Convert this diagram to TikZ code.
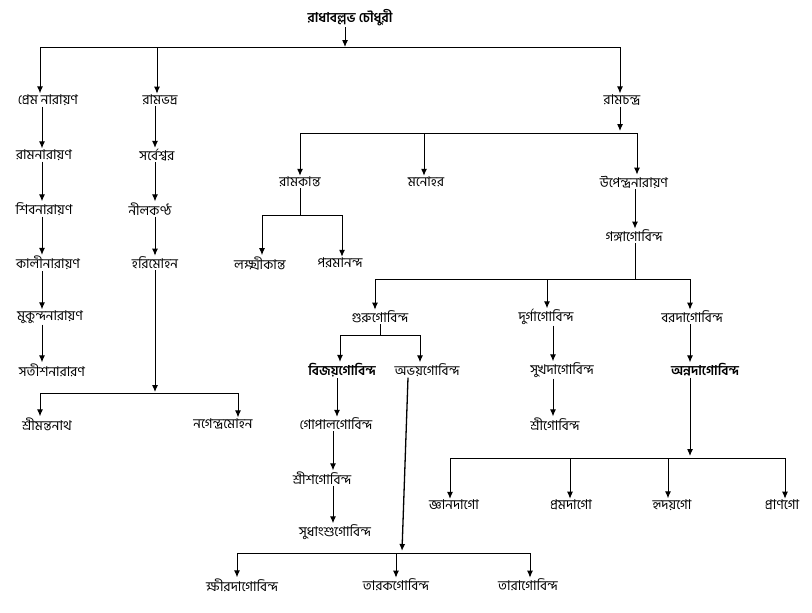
\documentclass[tikz,border=0pt]{standalone}
\usepackage{fontspec}
\newfontfamily\bn[Script=Bengali]{Hind Siliguri}
\usetikzlibrary{arrows.meta}
\begin{document}
\begin{tikzpicture}[x=1pt,y=-1pt,
  every node/.style={font=\bn\fontsize{13.5}{15}\selectfont,inner sep=1pt},
  arr/.style={-{Latex[length=7pt,width=6pt]},line width=1pt},
  ln/.style={line width=1pt}]
\useasboundingbox (0,0) rectangle (812,613);
\node (root) at (350,18) {\bfseries রাধাবল্লভ চৌধুরী};
\node (a1) at (48,100) {প্রেম নারায়ণ};
\node (a2) at (44,155) {রামনারায়ণ};
\node (a3) at (44,209) {শিবনারায়ণ};
\node (a4) at (48,263) {কালীনারায়ণ};
\node (a5) at (50,317) {মুকুন্দনারায়ণ};
\node (a6) at (52,370) {সতীশনারারণ};
\node (b1) at (160,100) {রামভদ্র};
\node (b2) at (157,155) {সর্বেশ্বর};
\node (b3) at (150,209) {নীলকণ্ঠ};
\node (b4) at (155,263) {হরিমোহন};
\node (b5) at (47,424) {শ্রীমন্তনাথ};
\node (b6) at (223,424) {নগেন্দ্রমোহন};
\node (c1) at (622,100) {রামচন্দ্র};
\node (c2) at (300,182) {রামকান্ত};
\node (c3) at (426,182) {মনোহর};
\node (c4) at (634,182) {উপেন্দ্রনারায়ণ};
\node (d1) at (260,263) {লক্ষ্মীকান্ত};
\node (d2) at (340,263) {পরমানন্দ};
\node (e1) at (634,236) {গঙ্গাগোবিন্দ};
\node (f1) at (380,317) {গুরুগোবিন্দ};
\node (f2) at (546,317) {দুর্গাগোবিন্দ};
\node (f3) at (692,317) {বরদাগোবিন্দ};
\node (g1) at (342,370) {\bfseries বিজয়গোবিন্দ};
\node (g2) at (427,370) {অভয়গোবিন্দ};
\node (h1) at (336,424) {গোপালগোবিন্দ};
\node (h2) at (322,478) {শ্রীশগোবিন্দ};
\node (h3) at (335,532) {সুধাংশুগোবিন্দ};
\node (i1) at (242,585) {ক্ষীরদাগোবিন্দ};
\node (i2) at (396,585) {তারকগোবিন্দ};
\node (i3) at (528,585) {তারাগোবিন্দ};
\node (j1) at (562,370) {সুখদাগোবিন্দ};
\node (j2) at (555,424) {শ্রীগোবিন্দ};
\node (k1) at (705,370) {\bfseries অন্নদাগোবিন্দ};
\node (l1) at (454,505) {জ্ঞানদাগো};
\node (l2) at (571,505) {প্রমদাগো};
\node (l3) at (672,505) {হৃদয়গো};
\node (l4) at (782,505) {প্রাণগো};
\draw[arr] (root.south -| 345,0) -- (345,47);
\draw[ln] (40,47) -- (620,47);
\draw[arr] (40,47) -- (a1.north -| 40,0);
\draw[arr] (157,47) -- (b1.north -| 157,0);
\draw[arr] (620,47) -- (c1.north -| 620,0);
\draw[arr] (a1.south -| 42,0) -- (a2.north -| 42,0);
\draw[arr] (a2.south -| 42,0) -- (a3.north -| 42,0);
\draw[arr] (a3.south -| 42,0) -- (a4.north -| 42,0);
\draw[arr] (a4.south -| 42,0) -- (a5.north -| 42,0);
\draw[arr] (a5.south -| 42,0) -- (a6.north -| 42,0);
\draw[arr] (b1.south -| 155,0) -- (b2.north -| 155,0);
\draw[arr] (b2.south -| 155,0) -- (b3.north -| 155,0);
\draw[arr] (b3.south -| 155,0) -- (b4.north -| 155,0);
\draw[arr] (b4.south -| 155,0) -- (155,392);
\draw[ln] (40,393) -- (238,393);
\draw[arr] (40,393) -- (b5.north -| 40,0);
\draw[arr] (238,393) -- (b6.north -| 238,0);
\draw[arr] (c1.south -| 620,0) -- (620,131);
\draw[ln] (300,133) -- (637,133);
\draw[arr] (300,133) -- (c2.north -| 300,0);
\draw[arr] (424,133) -- (c3.north -| 424,0);
\draw[arr] (637,133) -- (c4.north -| 637,0);
\draw[ln] (c2.south -| 300,0) -- (300,215);
\draw[ln] (262,215) -- (342,215);
\draw[arr] (262,215) -- (d1.north -| 262,0);
\draw[arr] (342,215) -- (d2.north -| 342,0);
\draw[arr] (c4.south -| 635,0) -- (e1.north -| 635,0);
\draw[ln] (e1.south -| 635,0) -- (635,279);
\draw[ln] (375,279) -- (690,279);
\draw[arr] (375,279) -- (f1.north -| 375,0);
\draw[arr] (547,279) -- (f2.north -| 547,0);
\draw[arr] (690,279) -- (f3.north -| 690,0);
\draw[ln] (f1.south -| 380,0) -- (380,335);
\draw[ln] (340,335) -- (420,335);
\draw[arr] (340,335) -- (g1.north -| 340,0);
\draw[arr] (420,335) -- (g2.north -| 420,0);
\draw[arr] (g1.south -| 337,0) -- (h1.north -| 337,0);
\draw[arr] (h1.south -| 333,0) -- (h2.north -| 333,0);
\draw[arr] (h2.south -| 333,0) -- (h3.north -| 333,0);
\draw[arr,line width=1.3pt] (g2.south -| 408,0) -- (402,551);
\draw[ln] (237,553) -- (530,553);
\draw[arr] (237,553) -- (i1.north -| 237,0);
\draw[arr] (396,553) -- (i2.north -| 396,0);
\draw[arr] (530,553) -- (i3.north -| 530,0);
\draw[arr] (f2.south -| 553,0) -- (j1.north -| 553,0);
\draw[arr] (j1.south -| 553,0) -- (j2.north -| 553,0);
\draw[arr] (f3.south -| 690,0) -- (k1.north -| 690,0);
\draw[arr] (k1.south -| 690,0) -- (690,456);
\draw[ln] (450,458) -- (785,458);
\draw[arr] (450,458) -- (l1.north -| 450,0);
\draw[arr] (570,458) -- (l2.north -| 570,0);
\draw[arr] (668,458) -- (l3.north -| 668,0);
\draw[arr] (785,458) -- (l4.north -| 785,0);
\end{tikzpicture}
\end{document}
